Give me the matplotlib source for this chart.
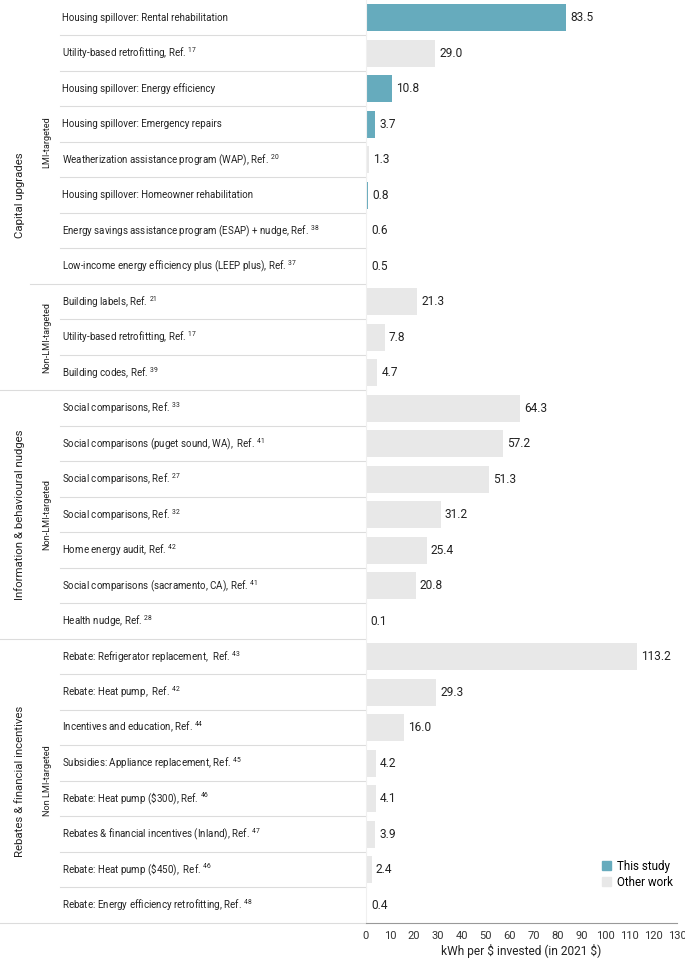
import numpy as np
import matplotlib
matplotlib.use('Agg')
import matplotlib.pyplot as plt
import matplotlib.transforms as mtransforms
from matplotlib.patches import Patch

plt.rcParams['font.family'] = ['Roboto', 'DejaVu Sans']
plt.rcParams['mathtext.fontset'] = 'custom'
plt.rcParams['mathtext.rm'] = 'Roboto'
plt.rcParams['mathtext.it'] = 'Roboto'

# one entry per row, top to bottom
labels = [
    'Housing spillover: Rental rehabilitation',
    r'Utility-based retrofitting, Ref. $^{\mathrm{17}}$',
    'Housing spillover: Energy efficiency',
    'Housing spillover: Emergency repairs',
    r'Weatherization assistance program (WAP), Ref. $^{\mathrm{20}}$',
    'Housing spillover: Homeowner rehabilitation',
    r'Energy savings assistance program (ESAP) + nudge, Ref. $^{\mathrm{38}}$',
    r'Low-income energy efficiency plus (LEEP plus), Ref. $^{\mathrm{37}}$',
    r'Building labels, Ref. $^{\mathrm{21}}$',
    r'Utility-based retrofitting, Ref. $^{\mathrm{17}}$',
    r'Building codes, Ref. $^{\mathrm{39}}$',
    r'Social comparisons, Ref. $^{\mathrm{33}}$',
    r'Social comparisons (puget sound, WA),  Ref. $^{\mathrm{41}}$',
    r'Social comparisons, Ref. $^{\mathrm{27}}$',
    r'Social comparisons, Ref. $^{\mathrm{32}}$',
    r'Home energy audit, Ref. $^{\mathrm{42}}$',
    r'Social comparisons (sacramento, CA), Ref. $^{\mathrm{41}}$',
    r'Health nudge, Ref. $^{\mathrm{28}}$',
    r'Rebate: Refrigerator replacement,  Ref. $^{\mathrm{43}}$',
    r'Rebate: Heat pump,  Ref. $^{\mathrm{42}}$',
    r'Incentives and education, Ref. $^{\mathrm{44}}$',
    r'Subsidies: Appliance replacement, Ref. $^{\mathrm{45}}$',
    r'Rebate: Heat pump (\$300), Ref. $^{\mathrm{46}}$',
    r'Rebates & financial incentives (Inland), Ref. $^{\mathrm{47}}$',
    r'Rebate: Heat pump (\$450),  Ref. $^{\mathrm{46}}$',
    r'Rebate: Energy efficiency retrofitting, Ref. $^{\mathrm{48}}$',
]
values = [83.5, 29.0, 10.8, 3.7, 1.3, 0.8, 0.6, 0.5,
          21.3, 7.8, 4.7,
          64.3, 57.2, 51.3, 31.2, 25.4, 20.8, 0.1,
          113.2, 29.3, 16.0, 4.2, 4.1, 3.9, 2.4, 0.4]
this_study = [True, False, True, True, False, True, False, False,
              False, False, False,
              False, False, False, False, False, False, False,
              False, False, False, False, False, False, False, False]

# groups: (name, first row, last row)
groups = [('Capital upgrades', 0, 10),
          ('Information & behavioural nudges', 11, 17),
          ('Rebates & financial incentives', 18, 25)]
subgroups = [('LMI-targeted', 0, 7),
             ('Non-LMI-targeted', 8, 10),
             ('Non-LMI-targeted', 11, 17),
             ('Non LMI-targeted', 18, 25)]

teal = '#66abbd'
grey = '#e8e8e8'
line_col = '#dcdcdc'

W, H = 685, 960
fig = plt.figure(figsize=(W / 100, H / 100), dpi=100)
ax = fig.add_axes([366 / W, 1 - 923 / H, (677 - 366) / W, 923 / H])

y = np.arange(len(values))
colors = [teal if t else grey for t in this_study]
ax.barh(y, values, height=0.76, color=colors, zorder=2)
for yi, v in zip(y, values):
    ax.annotate(f'{v:.1f}', (v, yi), xytext=(3, 0), textcoords='offset points',
                va='center', ha='left', fontsize=8.6, color='#222222')

ax.set_ylim(len(values) - 0.5, -0.5)
ax.set_xlim(0, 130)
ax.set_xticks(np.arange(0, 131, 10))
ax.tick_params(axis='x', length=0, pad=6, labelsize=8, colors='#333333')
ax.set_yticks([])
for s in ['top', 'right']:
    ax.spines[s].set_visible(False)
ax.spines['left'].set_color('#f0f0f0')
ax.spines['left'].set_linewidth(0.8)
ax.spines['bottom'].set_color('#999999')
ax.spines['bottom'].set_linewidth(0.8)
ax.set_xlabel(r'kWh per \$ invested (in 2021 \$)', fontsize=8.6, color='#222222', labelpad=2)

tr = mtransforms.blended_transform_factory(fig.transFigure, ax.transData)
x_end = 366 / W

# row labels
for yi, lab in zip(y, labels):
    t = fig.text(62 / W, 0, lab, transform=tr, fontsize=7.0, color='#222222',
                 va='center', ha='left')
    t.set_y(yi)

# separator lines
group_starts = [g[1] for g in groups]
sub_starts = [s[1] for s in subgroups]
for yi in range(1, len(values) + 1):
    b = yi - 0.5
    if yi in group_starts or yi == len(values):
        x0 = 0
    elif yi in sub_starts:
        x0 = 30 / W
    else:
        x0 = 60 / W
    ax.plot([x0, x_end], [b, b], transform=tr, color=line_col, lw=0.8,
            clip_on=False, zorder=1)

for name, a, b in groups:
    t = fig.text(20 / W, 0, name, transform=tr, rotation=90, fontsize=8.2,
                 color='#222222', va='center', ha='center')
    t.set_y((a + b) / 2)
for name, a, b in subgroups:
    t = fig.text(47 / W, 0, name, transform=tr, rotation=90, fontsize=6.6,
                 color='#222222', va='center', ha='center')
    t.set_y((a + b) / 2)

handles = [Patch(color=teal, label='This study'), Patch(color=grey, label='Other work')]
fig.legend(handles=handles, loc='upper left', bbox_to_anchor=(596 / W, 1 - 854 / H),
           frameon=False, fontsize=8.4, handlelength=0.8, handleheight=0.8,
           handletextpad=0.5, labelspacing=0.25, borderpad=0)

fig.savefig('out.png', dpi=100)
